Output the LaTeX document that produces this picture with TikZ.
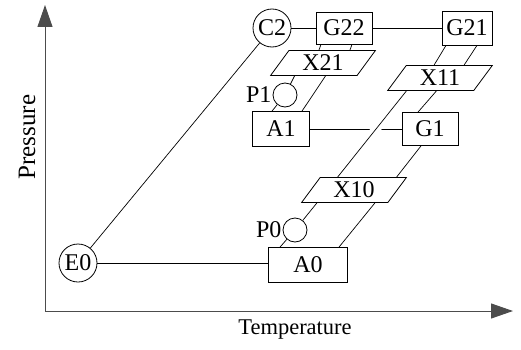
\documentclass[tikz,border=0pt]{standalone}
\usepackage{fontspec}
\setmainfont{Liberation Serif}
\usepackage{tikz}
\usetikzlibrary{shapes.geometric,arrows.meta}

\begin{document}
\begin{tikzpicture}[x=1pt, y=1pt,
  pipe/.style={line width=0.7pt},
  cross/.style={preaction={draw, white, line width=9pt, shorten <=14pt, shorten >=14pt}},
  box/.style={draw, line width=0.8pt, inner sep=0pt, font=\fontsize{24}{26}\selectfont},
  state/.style={box, circle, minimum size=38pt},
  valve/.style={box, circle, minimum size=24pt},
  mixer/.style={box, trapezium, trapezium left angle=55, trapezium right angle=125,
    trapezium stretches=true, minimum width=105pt, minimum height=25pt},
  every label/.style={font=\fontsize{24}{26}\selectfont, inner sep=1pt},
  axis/.style={line width=1pt, black!70, -{Triangle[length=22pt, width=15pt]}},
  axislabel/.style={font=\fontsize{22.5}{24}\selectfont}]
\useasboundingbox (0,0) rectangle (521,349);
\coordinate (O) at (45,38);
\coordinate (Ptop) at (45,344);
\coordinate (Tend) at (513,38);
\draw[axis] (O) -- (Ptop);
\draw[axis] (O) -- (Tend);
\node[axislabel, rotate=90, font=\fontsize{25}{26}\selectfont] (pres) at (27,212) {Pressure};
\node[axislabel] (temp) at (295,19) {Temperature};
\node[state] (E0) at (78,86) {E0};
\node[state] (C2) at (272,321) {C2};
\node[box, minimum width=56pt, minimum height=32pt] (G22) at (344,321) {G22};
\node[box, minimum width=50pt, minimum height=34pt] (G21) at (467,321) {G21};
\node[mixer] (X21) at (323,286) {X21};
\node[valve, label=left:P1] (P1) at (285,254) {};
\node[box, minimum width=57pt, minimum height=35pt] (A1) at (281,220) {A1};
\node[box, minimum width=56pt, minimum height=33pt] (G1) at (430,220) {G1};
\node[mixer] (X11) at (440,271) {X11};
\node[mixer] (X10) at (354,159) {X10};
\node[valve, label=left:P0] (P0) at (295,119) {};
\node[box, minimum width=79pt, minimum height=35pt] (A0) at (308,84) {A0};
\draw[pipe] (E0) -- (C2);
\draw[pipe] (C2) -- (G22);
\draw[pipe] (G22) -- (G21);
\draw[pipe] (E0) -- (E0 -| A0.west);
\draw[pipe] (A1) -- (G1);
\draw[pipe] ([xshift=-28pt]A0.north) -- (P0) -- ([xshift=-27.5pt]X10.bottom side);
\draw[pipe] ([xshift=31pt]A0.north) -- ([xshift=30.5pt]X10.bottom side);
\draw[pipe, cross] ([xshift=-26pt]X10.top side) -- ([xshift=-24pt]X11.bottom side);
\draw[pipe] ([xshift=33pt]X10.top side) -- ([xshift=-9pt]G1.south);
\draw[pipe] ([xshift=-12pt]G1.north) -- ([xshift=6pt]X11.bottom side);
\draw[pipe] ([xshift=-15.5pt]X11.top side) -- ([xshift=-21pt]G21.south);
\draw[pipe] ([xshift=14.5pt]X11.top side) -- ([xshift=10pt]G21.south);
\draw[pipe] ([xshift=-23pt]G22.south) -- ([xshift=-13.5pt]X21.top side);
\draw[pipe] ([xshift=8pt]G22.south) -- ([xshift=17.5pt]X21.top side);
\draw[pipe] ([xshift=-19pt]X21.bottom side) -- (P1) -- ([xshift=-9pt]A1.north);
\draw[pipe] ([xshift=12pt]X21.bottom side) -- ([xshift=21pt]A1.north);
\end{tikzpicture}
\end{document}
